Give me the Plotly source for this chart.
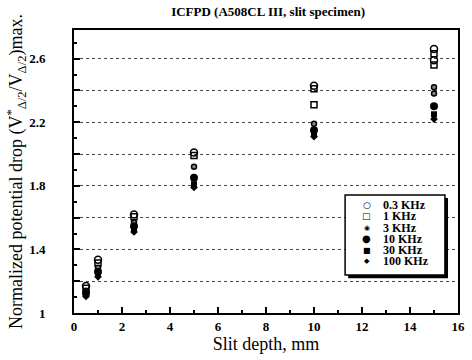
import plotly.graph_objects as go

# ---- data ----
freqs = ["0.3 KHz", "1 KHz", "3 KHz", "10 KHz", "30 KHz", "100 KHz"]
x_03k = [0.5, 1, 2.5, 5, 10, 15, 15]
y_03k = [1.17, 1.335, 1.62, 2.01, 2.43, 2.66, 2.59]
x_1k = [0.5, 1, 2.5, 5, 10, 10, 15, 15]
y_1k = [1.155, 1.315, 1.605, 1.99, 2.41, 2.31, 2.63, 2.56]
x_3k = [0.5, 1, 2.5, 5, 10, 15, 15]
y_3k = [1.14, 1.285, 1.57, 1.92, 2.19, 2.42, 2.38]
x_10k = [0.5, 1, 2.5, 5, 10, 15]
y_10k = [1.125, 1.26, 1.545, 1.85, 2.15, 2.30]
x_30k = [0.5, 1, 2.5, 5, 10, 15]
y_30k = [1.115, 1.24, 1.525, 1.81, 2.12, 2.25]
x_100k = [0.5, 1, 2.5, 5, 10, 15]
y_100k = [1.105, 1.228, 1.51, 1.79, 2.11, 2.22]

y_tick_vals = [1.0, 1.2, 1.4, 1.6, 1.8, 2.0, 2.2, 2.4, 2.6]
y_tick_text = ["1", "", "1.4", "", "1.8", "", "2.2", "", "2.6"]

series_x = [x_03k, x_1k, x_3k, x_10k, x_30k, x_100k]
series_y = [y_03k, y_1k, y_3k, y_10k, y_30k, y_100k]

# ---- styles ----
styles = [
    dict(symbol="circle-open", size=7, line=dict(width=1.5, color="black"), color="black"),
    dict(symbol="square-open", size=6, line=dict(width=1.5, color="black"), color="black"),
    dict(symbol="circle", size=5, color="#888", line=dict(width=1.5, color="black")),
    dict(symbol="circle", size=8, color="black", line=dict(width=0)),
    dict(symbol="square", size=6, color="black", line=dict(width=0)),
    dict(symbol="diamond", size=6, color="black", line=dict(width=0)),
]
# glyphs for the compact legend keys (same order as freqs)
legend_glyphs = ["○", "□", "◉", "●", "■", "◆"]
legend_glyph_sizes = [9, 9, 7, 10, 8, 7]

FONT = "Liberation Serif"

fig = go.Figure()
for name, xs, ys, st in zip(freqs, series_x, series_y, styles):
    fig.add_trace(go.Scatter(x=xs, y=ys, mode="markers", name=name,
                             marker=st, showlegend=False))

# ---- custom compact legend (paper coords) ----
leg_x0, leg_x1, leg_y0, leg_y1 = 0.706, 0.966, 0.134, 0.417
row_top, row_step = 0.382, 0.0400
rows = [row_top - i * row_step for i in range(len(freqs))]
for name, ry, g, gs in zip(freqs, rows, legend_glyphs, legend_glyph_sizes):
    fig.add_annotation(x=0.763, y=ry, xref="paper", yref="paper", text=g,
                       showarrow=False, xanchor="center", yanchor="middle",
                       font=dict(family="DejaVu Sans", size=gs, color="black"))
    fig.add_annotation(x=0.800, y=ry, xref="paper", yref="paper", text="<b>" + name + "</b>",
                       showarrow=False, xanchor="left", yanchor="middle",
                       font=dict(family=FONT, size=12, color="black"))
# shadow and box
fig.add_shape(type="rect", xref="paper", yref="paper",
              x0=leg_x0 + 0.008, x1=leg_x1 + 0.008, y0=leg_y0 - 0.011, y1=leg_y1 - 0.011,
              fillcolor="black", line=dict(width=0), layer="above")
fig.add_shape(type="rect", xref="paper", yref="paper",
              x0=leg_x0, x1=leg_x1, y0=leg_y0, y1=leg_y1,
              fillcolor="white", line=dict(width=1.5, color="black"), layer="above")

fig.update_layout(
    width=472, height=360,
    margin=dict(l=74, r=14, t=30, b=47),
    paper_bgcolor="white", plot_bgcolor="white",
    font=dict(family=FONT, color="black"),
    title=dict(text="<b>ICFPD (A508CL III, slit specimen)</b>", x=0.568, xanchor="center",
               y=0.967, yanchor="middle", font=dict(family=FONT, size=13)),
    xaxis=dict(range=[0, 16], dtick=2, tick0=0, showgrid=False, zeroline=False, automargin=False,
               showline=True, linewidth=2, linecolor="black", mirror=True,
               ticks="inside", ticklen=6, tickwidth=1.5, tickcolor="black",
               minor=dict(dtick=1, ticks="inside", ticklen=3, tickwidth=1.5, tickcolor="black"),
               tickfont=dict(family=FONT, size=13, color="black"), ticklabelstandoff=0,
               tickprefix="<b>", ticksuffix="</b>",
               title=dict(text="Slit depth, mm", font=dict(family=FONT, size=18), standoff=5)),
    yaxis=dict(range=[1, 2.78], tickmode="array", tickvals=y_tick_vals,
               ticktext=["<b>" + t + "</b>" if t else "" for t in y_tick_text],
               showgrid=True, gridcolor="#444", griddash="dot", gridwidth=1, zeroline=False,
               automargin=False,
               showline=True, linewidth=2, linecolor="black", mirror=True,
               ticks="inside", ticklen=6, tickwidth=1.5, tickcolor="black",
               minor=dict(dtick=0.1, tick0=1, ticks="inside", ticklen=3, tickwidth=1.5,
                          tickcolor="black", showgrid=False),
               tickfont=dict(family=FONT, size=13, color="black"), ticklabelstandoff=24,
               title=dict(text="Normalized potential drop (V<sup>*</sup><sub>Δ/2</sub>/V<sub>Δ/2</sub>)max.",
                          font=dict(family=FONT, size=18), standoff=0)),
)

fig.write_html("out.html", config={"displayModeBar": False},
               post_script="document.body.style.margin='0px';")
